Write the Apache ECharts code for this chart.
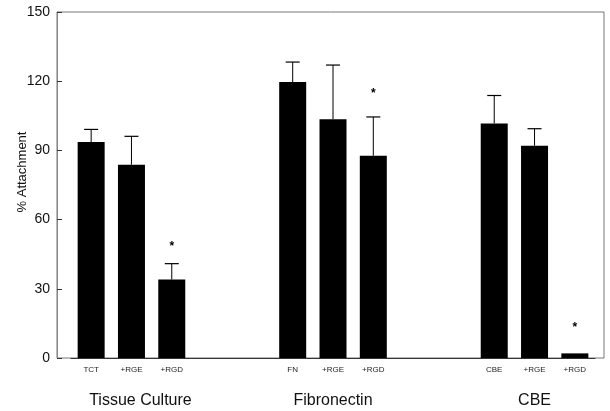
<!DOCTYPE html>
<html>
<head>
<meta charset="utf-8">
<script src="https://cdn.jsdelivr.net/npm/echarts@6/dist/echarts.min.js"></script>
<style>
html,body{margin:0;padding:0;background:#fff;}
#chart{width:610px;height:411px;}
</style>
</head>
<body>
<div id="chart"></div>
<script>
const categories = ['TCT', '+RGE', '+RGD', '', '', 'FN', '+RGE', '+RGD', '', '', 'CBE', '+RGE', '+RGD'];
const groupLabels = ['', 'Tissue Culture', '', '', '', '', 'Fibronectin', '', '', '', '', 'CBE', ''];
const attachment = [93.6, 83.8, 34, null, null, 119.6, 103.5, 87.7, null, null, 101.7, 92, 2];
const errorTop = [99.1, 96.1, 40.9, null, null, 128.3, 127, 104.5, null, null, 113.8, 99.4, null];
const starAt = [null, null, 49.6, null, null, null, null, 116.1, null, null, null, null, 14.3];
const yTicks = [0, 30, 60, 90, 120, 150];

const FONT = '"Liberation Sans", Arial, Helvetica, sans-serif';

const errData = [];
categories.forEach((c, i) => {
  if (errorTop[i] != null || starAt[i] != null) {
    errData.push([i, attachment[i], errorTop[i] == null ? NaN : errorTop[i], starAt[i] == null ? NaN : starAt[i]]);
  }
});

const chart = echarts.init(document.getElementById('chart'), null, {renderer: 'canvas'});
chart.setOption({
  animation: false,
  backgroundColor: '#fff',
  grid: [
    {left: 57, right: 6, top: 12, bottom: 53, show: true, borderColor: '#777', borderWidth: 1, backgroundColor: 'transparent'},
    {left: 71, width: 524, top: 12, bottom: 53}
  ],
  xAxis: [
    {gridIndex: 0, type: 'value', min: 0, max: 1, show: false},
    {gridIndex: 1, type: 'category', data: categories, boundaryGap: true,
      axisLine: {show: true, lineStyle: {color: '#333', width: 1}},
      axisTick: {show: false},
      axisLabel: {interval: 0, fontSize: 8, color: '#222', fontFamily: FONT, margin: 8}},
    {gridIndex: 1, type: 'category', data: groupLabels, position: 'bottom', boundaryGap: true,
      axisLine: {show: false}, axisTick: {show: false},
      axisLabel: {interval: 0, fontSize: 16, color: '#111', fontFamily: FONT, margin: 35,
        formatter: function (v) { return v === 'Tissue Culture' ? '{tc|' + v + '}' : v; },
        rich: {tc: {fontSize: 16, fontFamily: FONT, color: '#111', padding: [0, 0, 0, 18]}}}}
  ],
  yAxis: [
    {gridIndex: 0, type: 'value', min: yTicks[0], max: yTicks[yTicks.length - 1], interval: 30,
      name: '% Attachment', nameLocation: 'middle', nameGap: 28, nameMoveOverlap: false,
      nameTextStyle: {fontSize: 13, color: '#111', fontFamily: FONT, padding: [0, 0, 0, 26]},
      axisLine: {show: true, lineStyle: {color: '#888', width: 1}},
      axisTick: {show: true, inside: true, length: 5, lineStyle: {color: '#333'}},
      axisLabel: {fontSize: 14, color: '#111', fontFamily: FONT, margin: 7},
      splitLine: {show: false}},
    {gridIndex: 1, type: 'value', min: yTicks[0], max: yTicks[yTicks.length - 1], show: false}
  ],
  series: [
    {type: 'bar', xAxisIndex: 1, yAxisIndex: 1, data: attachment, barWidth: 27,
      itemStyle: {color: '#000'}},
    {type: 'custom', xAxisIndex: 1, yAxisIndex: 1, data: errData, clip: false,
      encode: {x: 0, y: 2},
      renderItem: function (params, api) {
        const idx = api.value(0);
        const v = api.value(1);
        const e = api.value(2);
        const s = api.value(3);
        const children = [];
        if (!isNaN(e)) {
          const p0 = api.coord([idx, v]);
          const p1 = api.coord([idx, e]);
          children.push({type: 'line', shape: {x1: p0[0], y1: p0[1], x2: p1[0], y2: p1[1]}, style: {stroke: '#000', lineWidth: 1}});
          children.push({type: 'line', shape: {x1: p1[0] - 7, y1: p1[1], x2: p1[0] + 7, y2: p1[1]}, style: {stroke: '#000', lineWidth: 1.2}});
        }
        if (!isNaN(s)) {
          const ps = api.coord([idx, s]);
          children.push({type: 'text', style: {text: '*', x: ps[0], y: ps[1] + 3, align: 'center', verticalAlign: 'middle', fontSize: 12, fontWeight: 'bold', fontFamily: FONT, fill: '#000'}});
        }
        return {type: 'group', children: children};
      }}
  ]
});
</script>
</body>
</html>
